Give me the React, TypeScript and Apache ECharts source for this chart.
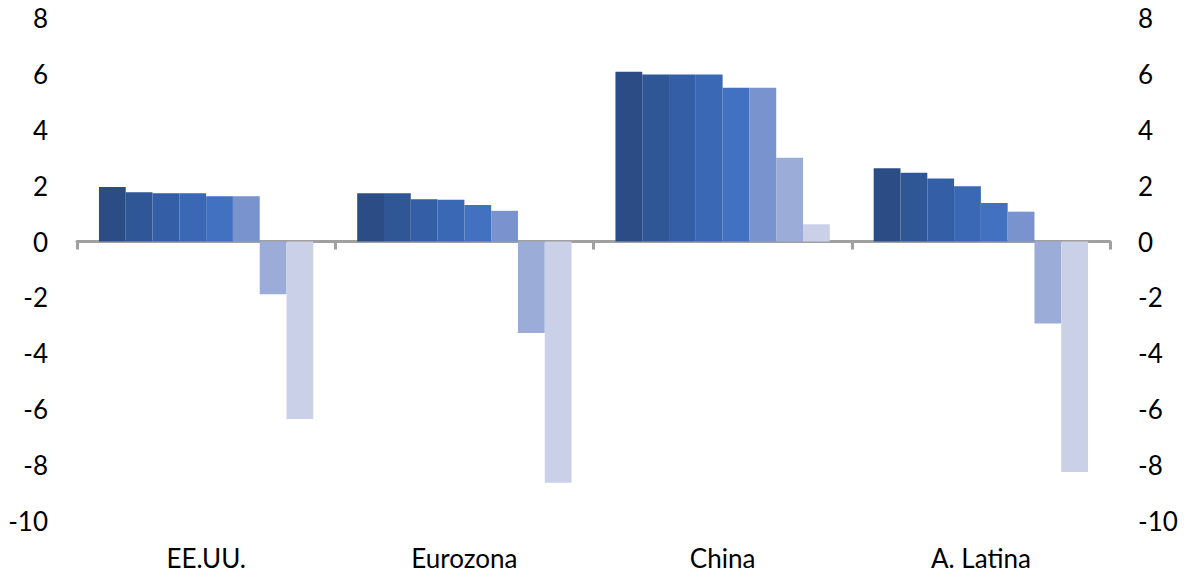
import React, { useEffect, useRef } from "react";
import * as echarts from "echarts";

const categories = ["EE.UU.", "Eurozona", "China", "A. Latina"];

const s1 = [1.95, 1.73, 6.08, 2.62];
const s2 = [1.76, 1.73, 5.98, 2.46];
const s3 = [1.73, 1.51, 5.98, 2.26];
const s4 = [1.73, 1.5, 5.98, 1.98];
const s5 = [1.62, 1.31, 5.5, 1.38];
const s6 = [1.62, 1.1, 5.5, 1.07];
const s7 = [-1.89, -3.27, 3.0, -2.93];
const s8 = [-6.35, -8.63, 0.62, -8.25];

const seriesValues = [s1, s2, s3, s4, s5, s6, s7, s8];
const colors = [
  "#2C4C85",
  "#2F5796",
  "#345FA6",
  "#3A68B5",
  "#4271C2",
  "#7993CE",
  "#9AACD7",
  "#CAD0E8",
];

const font = "Lato, 'Open Sans', sans-serif";
const fontSize = 26;

export default function App() {
  const ref = useRef<HTMLDivElement>(null);

  useEffect(() => {
    if (!ref.current) return;
    const chart = echarts.init(ref.current, null, { renderer: "svg" });
    const yCommon = {
      type: "value",
      min: -10,
      max: 8,
      interval: 2,
      axisLine: { show: false },
      axisTick: { show: false },
      splitLine: { show: false },
    };
    chart.setOption({
      animation: false,
      backgroundColor: "#fff",
      grid: { left: 77, right: 78, top: 18, bottom: 56, containLabel: false },
      xAxis: [
        {
          type: "category",
          data: categories,
          axisLine: {
            onZero: true,
            lineStyle: { color: "#A0A0A0", width: 3 },
          },
          axisTick: {
            show: true,
            alignWithLabel: false,
            length: 8,
            lineStyle: { color: "#A0A0A0", width: 3 },
          },
          axisLabel: { show: false },
          splitLine: { show: false },
        },
        {
          type: "category",
          data: categories,
          position: "bottom",
          axisLine: { show: false, onZero: false },
          axisTick: { show: false },
          axisLabel: {
            color: "#000",
            fontSize,
            fontFamily: font,
            margin: 24,
          },
          splitLine: { show: false },
        },
      ],
      yAxis: [
        {
          ...yCommon,
          position: "left",
          axisLabel: {
            color: "#000",
            fontSize,
            fontFamily: font,
            margin: 29,
            align: "right",
          },
        },
        {
          ...yCommon,
          position: "right",
          axisLabel: {
            color: "#000",
            fontSize,
            fontFamily: font,
            margin: 28,
            align: "left",
          },
        },
      ],
      series: seriesValues.map((vals, i) => ({
        type: "bar",
        name: "s" + (i + 1),
        data: vals,
        xAxisIndex: 0,
        yAxisIndex: 0,
        barGap: "0%",
        barCategoryGap: "17%",
        itemStyle: { color: colors[i] },
        z: 1,
      })),
    });
    return () => chart.dispose();
  }, []);

  return (
    <div
      ref={ref}
      style={{ width: 1188, height: 577, position: "absolute", left: 0, top: 0 }}
    />
  );
}
